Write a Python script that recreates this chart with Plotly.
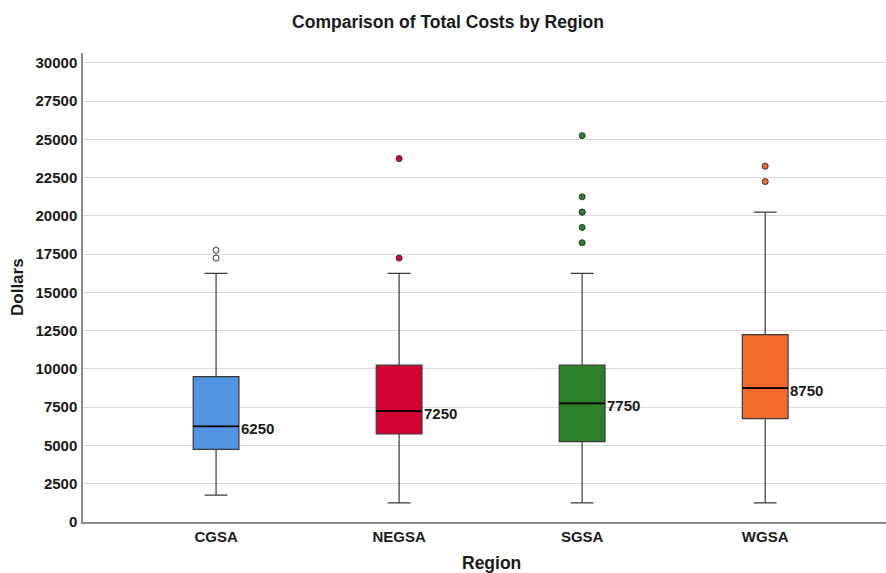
import plotly.graph_objects as go

regions = ["CGSA", "NEGSA", "SGSA", "WGSA"]
q1 = [4750, 5750, 5250, 6750]
median = [6250, 7250, 7750, 8750]
q3 = [9500, 10250, 10250, 12250]
lower = [1750, 1250, 1250, 1250]
upper = [16250, 16250, 16250, 20250]
outliers = {
    "CGSA": [17250, 17750],
    "NEGSA": [17250, 23750],
    "SGSA": [18250, 19250, 20250, 20250, 21250, 25250],
    "WGSA": [22250, 23250],
}
colors = ["#5294E2", "#D50032", "#2A8128", "#F26A2C"]
y_ticks = [0, 2500, 5000, 7500, 10000, 12500, 15000, 17500, 20000, 22500, 25000, 27500, 30000]

FONT = "Liberation Sans, Arial, sans-serif"
W, H = 886, 573
L, T = 83, 53
PH = 469
B = H - T - PH

fig = go.Figure()
for i, r in enumerate(regions):
    fig.add_trace(go.Box(
        x=[r], q1=[q1[i]], median=[median[i]], q3=[q3[i]],
        lowerfence=[lower[i]], upperfence=[upper[i]],
        fillcolor=colors[i], line=dict(color="#3a3a3a", width=1.2),
        width=0.25, whiskerwidth=0.5, boxpoints=False, showlegend=False,
        hoverinfo="skip",
    ))
    fig.add_shape(type="line", xref="x", yref="y",
                  x0=i - 0.125, x1=i + 0.125, y0=median[i], y1=median[i],
                  line=dict(color="black", width=1.8))
    ov = outliers[r]
    fill = "white" if r == "CGSA" else colors[i]
    fig.add_trace(go.Scatter(
        x=[r] * len(ov), y=ov, mode="markers",
        marker=dict(size=6, color=fill, line=dict(color="#333333", width=1)),
        showlegend=False, hoverinfo="skip",
    ))
    fig.add_annotation(x=i + 0.125, y=median[i], xref="x", yref="y",
                       text=f"<b>{median[i]}</b>", showarrow=False,
                       xanchor="left", yanchor="middle", xshift=0, yshift=-2,
                       font=dict(family=FONT, size=15, color="#1a1a1a"))

fig.add_annotation(text="<b>Region</b>", xref="paper", yref="paper",
                   x=(491 - L) / 803, y=-(563 - 522) / PH, showarrow=False,
                   xanchor="center", yanchor="middle",
                   font=dict(family=FONT, size=17.5, color="#1a1a1a"))
fig.add_annotation(text="<b>Dollars</b>", xref="paper", yref="paper",
                   x=(17 - L) / 803, y=(522 - 287) / PH, showarrow=False,
                   textangle=-90, xanchor="center", yanchor="middle",
                   font=dict(family=FONT, size=17, color="#1a1a1a"))

fig.update_layout(
    width=W, height=H,
    margin=dict(l=L, r=0, t=T, b=B),
    paper_bgcolor="white", plot_bgcolor="white",
    title=dict(text="<b>Comparison of Total Costs by Region</b>",
               x=448 / W, xref="container", xanchor="center",
               y=1 - 22 / H, yref="container", yanchor="middle",
               font=dict(family=FONT, size=17.5, color="#1a1a1a")),
    font=dict(family=FONT),
    xaxis=dict(type="category", categoryorder="array", categoryarray=regions,
               range=[-0.727, 3.66], showgrid=False, showline=True,
               linecolor="#8a8a8a", linewidth=1.5, ticks="", ticklen=0,
               tickfont=dict(family=FONT, size=15, color="#1a1a1a", weight="bold")),
    yaxis=dict(range=[0, 30650], tickvals=y_ticks, ticktext=[str(v) for v in y_ticks],
               showgrid=True, gridcolor="#d9d9d9", gridwidth=1.3,
               showline=True, linecolor="#8a8a8a", linewidth=1.5,
               zeroline=False, ticks="", ticklabelstandoff=1,
               tickfont=dict(family=FONT, size=15, color="#1a1a1a", weight="bold")),
)

fig.write_html(
    "out.html",
    config={"displayModeBar": False},
    post_script="document.body.style.margin='0';document.body.style.overflow='hidden';",
)
